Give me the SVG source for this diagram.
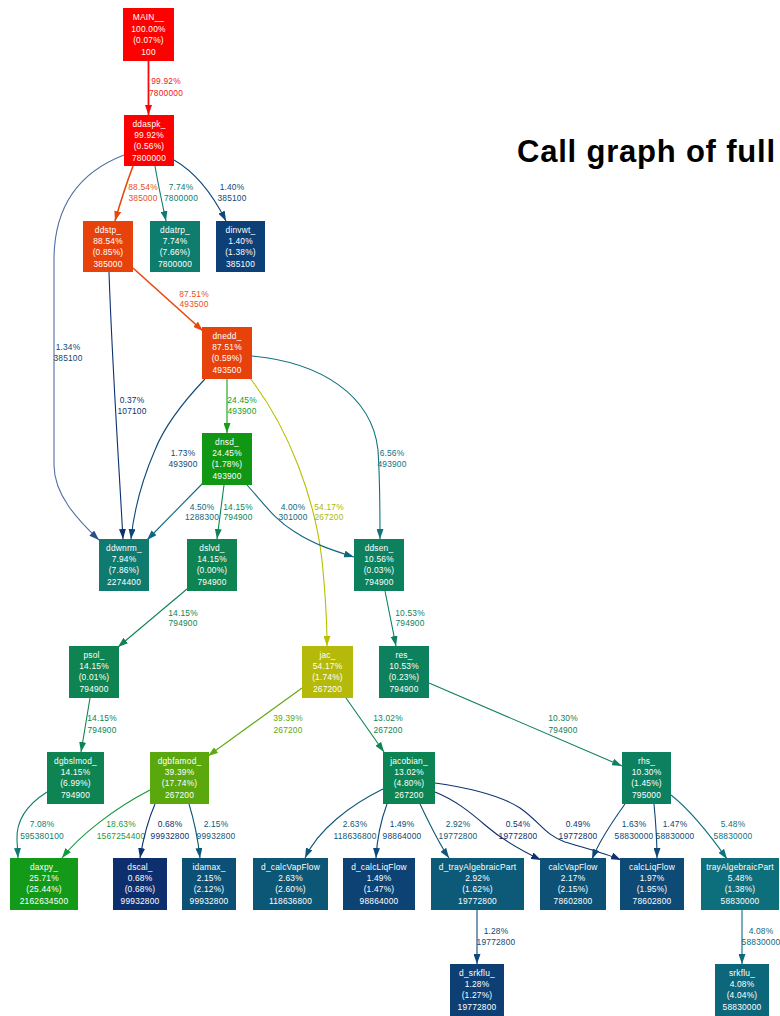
<svg xmlns="http://www.w3.org/2000/svg" width="780" height="1016" viewBox="0 0 780 1016">
<style>
  text { font-family: "Liberation Sans", Arial, Helvetica, sans-serif; }
  .node text { fill: #ffffff; font-size: 8.4px; text-anchor: middle; letter-spacing: 0.2px; }
  .lbl { font-size: 8.4px; text-anchor: middle; letter-spacing: 0.2px; }
  .e { fill: none; stroke-width: 1.1; }
  .title { font-size: 31px; font-weight: bold; fill: #000000; }
  .cR { stroke: #f80808; } .tR { fill: #f01818; }
  .cO { stroke: #e8480f; } .tO { fill: #e8501a; }
  .cY { stroke: #b8bf00; } .tY { fill: #b0b800; }
  .cYG { stroke: #5eaa10; } .tYG { fill: #5aa810; }
  .cG { stroke: #14a014; } .tG { fill: #14a014; }
  .cG2 { stroke: #129a3a; } .tG2 { fill: #179a40; }
  .cGT { stroke: #0d8452; } .tGT { fill: #0d8452; }
  .cT1 { stroke: #0d7f62; } .tT1 { fill: #0d7f62; }
  .cT2 { stroke: #0d7b70; } .tT2 { fill: #0d7b70; }
  .cT3 { stroke: #0d737f; } .tT3 { fill: #0d737f; }
  .cT4 { stroke: #0d6880; } .tT4 { fill: #0d6880; }
  .cB1 { stroke: #0d5878; } .tB1 { fill: #0d5878; }
  .cB2 { stroke: #0d4878; } .tB2 { fill: #0d4878; }
  .cB3 { stroke: #0d3070; } .tB3 { fill: #0d3070; }
  .cB4 { stroke: #5070a2; }
</style>
<defs>
  <marker id="aR" viewBox="0 0 10 7" refX="10" refY="3.5" markerWidth="10" markerHeight="7" markerUnits="userSpaceOnUse" orient="auto"><path d="M0,0 L10,3.5 L0,7 z" fill="#f80808"/></marker>
  <marker id="aO" viewBox="0 0 10 7" refX="10" refY="3.5" markerWidth="10" markerHeight="7" markerUnits="userSpaceOnUse" orient="auto"><path d="M0,0 L10,3.5 L0,7 z" fill="#e8480f"/></marker>
  <marker id="aY" viewBox="0 0 10 7" refX="10" refY="3.5" markerWidth="10" markerHeight="7" markerUnits="userSpaceOnUse" orient="auto"><path d="M0,0 L10,3.5 L0,7 z" fill="#b8bf00"/></marker>
  <marker id="aYG" viewBox="0 0 10 7" refX="10" refY="3.5" markerWidth="10" markerHeight="7" markerUnits="userSpaceOnUse" orient="auto"><path d="M0,0 L10,3.5 L0,7 z" fill="#5eaa10"/></marker>
  <marker id="aG" viewBox="0 0 10 7" refX="10" refY="3.5" markerWidth="10" markerHeight="7" markerUnits="userSpaceOnUse" orient="auto"><path d="M0,0 L10,3.5 L0,7 z" fill="#14a014"/></marker>
  <marker id="aG2" viewBox="0 0 10 7" refX="10" refY="3.5" markerWidth="10" markerHeight="7" markerUnits="userSpaceOnUse" orient="auto"><path d="M0,0 L10,3.5 L0,7 z" fill="#129a3a"/></marker>
  <marker id="aGT" viewBox="0 0 10 7" refX="10" refY="3.5" markerWidth="10" markerHeight="7" markerUnits="userSpaceOnUse" orient="auto"><path d="M0,0 L10,3.5 L0,7 z" fill="#0d8452"/></marker>
  <marker id="aT1" viewBox="0 0 10 7" refX="10" refY="3.5" markerWidth="10" markerHeight="7" markerUnits="userSpaceOnUse" orient="auto"><path d="M0,0 L10,3.5 L0,7 z" fill="#0d7f62"/></marker>
  <marker id="aT2" viewBox="0 0 10 7" refX="10" refY="3.5" markerWidth="10" markerHeight="7" markerUnits="userSpaceOnUse" orient="auto"><path d="M0,0 L10,3.5 L0,7 z" fill="#0d7b70"/></marker>
  <marker id="aT3" viewBox="0 0 10 7" refX="10" refY="3.5" markerWidth="10" markerHeight="7" markerUnits="userSpaceOnUse" orient="auto"><path d="M0,0 L10,3.5 L0,7 z" fill="#0d737f"/></marker>
  <marker id="aT4" viewBox="0 0 10 7" refX="10" refY="3.5" markerWidth="10" markerHeight="7" markerUnits="userSpaceOnUse" orient="auto"><path d="M0,0 L10,3.5 L0,7 z" fill="#0d6880"/></marker>
  <marker id="aB1" viewBox="0 0 10 7" refX="10" refY="3.5" markerWidth="10" markerHeight="7" markerUnits="userSpaceOnUse" orient="auto"><path d="M0,0 L10,3.5 L0,7 z" fill="#0d5878"/></marker>
  <marker id="aB2" viewBox="0 0 10 7" refX="10" refY="3.5" markerWidth="10" markerHeight="7" markerUnits="userSpaceOnUse" orient="auto"><path d="M0,0 L10,3.5 L0,7 z" fill="#0d4878"/></marker>
  <marker id="aB3" viewBox="0 0 10 7" refX="10" refY="3.5" markerWidth="10" markerHeight="7" markerUnits="userSpaceOnUse" orient="auto"><path d="M0,0 L10,3.5 L0,7 z" fill="#0d3070"/></marker>
  <marker id="aB4" viewBox="0 0 10 7" refX="10" refY="3.5" markerWidth="10" markerHeight="7" markerUnits="userSpaceOnUse" orient="auto"><path d="M0,0 L10,3.5 L0,7 z" fill="#2d4f88"/></marker>
</defs>
<rect width="780" height="1016" fill="#ffffff"/>

<text class="title" x="517" y="162" textLength="258" lengthAdjust="spacing">Call graph of full</text>

<!-- call edges -->
<g id="edges">
  <path class="e cR" style="stroke-width:1.8" marker-end="url(#aR)" d="M148.5,61 L148.5,115"/>
  <text class="lbl tR" x="166" y="84">99.92%</text><text class="lbl tR" x="166" y="96">7800000</text>

  <path class="e cO" style="stroke-width:1.6" marker-end="url(#aO)" d="M133,166 C127,182 121,200 115,221"/>
  <text class="lbl tO" x="143" y="190">88.54%</text><text class="lbl tO" x="143" y="201">385000</text>

  <path class="e cT2" marker-end="url(#aT2)" d="M155,166 C158,184 162,202 166,221"/>
  <text class="lbl tT2" x="181" y="190">7.74%</text><text class="lbl tT2" x="181" y="201">7800000</text>

  <path class="e cB2" marker-end="url(#aB2)" d="M174,160 C195,172 213,195 226,221"/>
  <text class="lbl tB2" x="232" y="190">1.40%</text><text class="lbl tB2" x="232" y="201">385100</text>

  <path class="e cB4" marker-end="url(#aB4)" d="M124,155 C80,172 54,205 54,260 L54,465 C54,495 78,520 99,540"/>
  <text class="lbl tB2" x="68" y="350">1.34%</text><text class="lbl tB2" x="68" y="361">385100</text>

  <path class="e cB3" marker-end="url(#aB3)" d="M109,272 C112,360 118,450 123,539"/>
  <text class="lbl tB3" x="132" y="403">0.37%</text><text class="lbl tB3" x="132" y="414">107100</text>

  <path class="e cO" style="stroke-width:1.6" marker-end="url(#aO)" d="M133,268 L203,331"/>
  <text class="lbl tO" x="194" y="297">87.51%</text><text class="lbl tO" x="194" y="307">493500</text>

  <path class="e cB2" marker-end="url(#aB2)" d="M205,379 C185,400 165,425 155,450 C142,480 134,510 131,539"/>
  <text class="lbl tB2" x="183" y="456">1.73%</text><text class="lbl tB2" x="183" y="467">493900</text>

  <path class="e cG" marker-end="url(#aG)" d="M227,379 L227,433"/>
  <text class="lbl tG" x="242" y="403">24.45%</text><text class="lbl tG" x="242" y="414">493900</text>

  <path class="e cY" marker-end="url(#aY)" d="M250,378 C290,430 315,500 322,560 C326,600 327,620 327,646"/>
  <text class="lbl tY" x="329" y="510">54.17%</text><text class="lbl tY" x="329" y="520">267200</text>

  <path class="e cT3" marker-end="url(#aT3)" d="M252,356 C320,362 372,395 378,450 C380,480 380,510 380,539"/>
  <text class="lbl tT3" x="392" y="456">6.56%</text><text class="lbl tT3" x="392" y="467">493900</text>

  <path class="e cT4" marker-end="url(#aT4)" d="M203,483 L147,540"/>
  <text class="lbl tT4" x="202" y="510">4.50%</text><text class="lbl tT4" x="202" y="520">1288300</text>

  <path class="e cGT" marker-end="url(#aGT)" d="M224,485 L217,539"/>
  <text class="lbl tGT" x="238" y="510">14.15%</text><text class="lbl tGT" x="238" y="520">794900</text>

  <path class="e cT4" marker-end="url(#aT4)" d="M247,485 C265,505 275,520 295,532 C315,545 335,551 354,557"/>
  <text class="lbl tT4" x="293" y="510">4.00%</text><text class="lbl tT4" x="293" y="520">301000</text>

  <path class="e cGT" marker-end="url(#aGT)" d="M187,589 L118,647"/>
  <text class="lbl tGT" x="183" y="616">14.15%</text><text class="lbl tGT" x="183" y="626">794900</text>

  <path class="e cGT" marker-end="url(#aGT)" d="M90,698 L81,752"/>
  <text class="lbl tGT" x="102" y="721">14.15%</text><text class="lbl tGT" x="102" y="733">794900</text>

  <path class="e cT1" marker-end="url(#aT1)" d="M385,591 L396,646"/>
  <text class="lbl tT1" x="410" y="616">10.53%</text><text class="lbl tT1" x="410" y="626">794900</text>

  <path class="e cYG" marker-end="url(#aYG)" d="M302,688 L208,756"/>
  <text class="lbl tYG" x="288" y="721">39.39%</text><text class="lbl tYG" x="288" y="733">267200</text>

  <path class="e cGT" marker-end="url(#aGT)" d="M346,698 L384,752"/>
  <text class="lbl tGT" x="388" y="721">13.02%</text><text class="lbl tGT" x="388" y="733">267200</text>

  <path class="e cT1" marker-end="url(#aT1)" d="M429,683 L622,766"/>
  <text class="lbl tT1" x="563" y="721">10.30%</text><text class="lbl tT1" x="563" y="733">794900</text>

  <path class="e cT2" marker-end="url(#aT2)" d="M47,792 C25,806 16,822 17,840 L18,858"/>
  <text class="lbl tT2" x="42" y="827">7.08%</text><text class="lbl tT2" x="42" y="839">595380100</text>

  <path class="e cG2" marker-end="url(#aG2)" d="M150,790 C115,808 80,835 62,858"/>
  <text class="lbl tG2" x="121" y="827">18.63%</text><text class="lbl tG2" x="121" y="839">1567254400</text>

  <path class="e cB3" marker-end="url(#aB3)" d="M155,804 C148,820 143,840 140,858"/>
  <text class="lbl tB3" x="170" y="827">0.68%</text><text class="lbl tB3" x="170" y="839">99932800</text>

  <path class="e cB1" marker-end="url(#aB1)" d="M189,804 C194,820 198,840 200,858"/>
  <text class="lbl tB1" x="216" y="827">2.15%</text><text class="lbl tB1" x="216" y="839">99932800</text>

  <path class="e cB1" marker-end="url(#aB1)" d="M383,789 C350,805 318,830 305,858"/>
  <text class="lbl tB1" x="355" y="827">2.63%</text><text class="lbl tB1" x="355" y="839">118636800</text>

  <path class="e cB2" marker-end="url(#aB2)" d="M387,804 C381,820 377,840 376,858"/>
  <text class="lbl tB2" x="402" y="827">1.49%</text><text class="lbl tB2" x="402" y="839">98864000</text>

  <path class="e cB1" marker-end="url(#aB1)" d="M420,804 C430,825 440,845 449,858"/>
  <text class="lbl tB1" x="458" y="827">2.92%</text><text class="lbl tB1" x="458" y="839">19772800</text>

  <path class="e cB3" marker-end="url(#aB3)" d="M435,792 C455,800 470,812 485,825 C500,838 520,850 541,860"/>
  <text class="lbl tB3" x="518" y="827">0.54%</text><text class="lbl tB3" x="518" y="839">19772800</text>

  <path class="e cB3" marker-end="url(#aB3)" d="M435,783 C470,788 500,795 520,808 C540,822 545,835 565,842 C585,848 605,853 621,860"/>
  <text class="lbl tB3" x="578" y="827">0.49%</text><text class="lbl tB3" x="578" y="839">19772800</text>

  <path class="e cB2" marker-end="url(#aB2)" d="M625,804 C612,822 600,840 592,859"/>
  <text class="lbl tB2" x="634" y="827">1.63%</text><text class="lbl tB2" x="634" y="839">58830000</text>

  <path class="e cB2" marker-end="url(#aB2)" d="M654,804 C656,825 657,840 657,858"/>
  <text class="lbl tB2" x="675" y="827">1.47%</text><text class="lbl tB2" x="675" y="839">58830000</text>

  <path class="e cT3" marker-end="url(#aT3)" d="M671,795 C690,810 708,832 727,859"/>
  <text class="lbl tT3" x="733" y="827">5.48%</text><text class="lbl tT3" x="733" y="839">58830000</text>

  <path class="e cB2" marker-end="url(#aB2)" d="M477,910 L477,964"/>
  <text class="lbl tB2" x="496" y="934">1.28%</text><text class="lbl tB2" x="496" y="945">19772800</text>

  <path class="e cT4" marker-end="url(#aT4)" d="M742,910 L742,964"/>
  <text class="lbl tT4" x="761" y="934">4.08%</text><text class="lbl tT4" x="761" y="945">58830000</text>
</g>

<!-- functions -->
<g id="MAIN__" class="node"><rect x="123" y="8" width="51" height="53" fill="#fe0000"/>
  <text x="148.5" y="20">MAIN__</text><text x="148.5" y="31.5">100.00%</text><text x="148.5" y="43">(0.07%)</text><text x="148.5" y="54.5">100</text></g>
<g id="ddaspk_" class="node"><rect x="124" y="115" width="50" height="51" fill="#fe0000"/>
  <text x="149" y="126.5">ddaspk_</text><text x="149" y="138">99.92%</text><text x="149" y="149.3">(0.56%)</text><text x="149" y="160.5">7800000</text></g>
<g id="ddstp_" class="node"><rect x="83" y="221" width="50" height="51" fill="#e8420c"/>
  <text x="108" y="232.5">ddstp_</text><text x="108" y="244">88.54%</text><text x="108" y="255.3">(0.85%)</text><text x="108" y="266.5">385000</text></g>
<g id="ddatrp_" class="node"><rect x="150" y="221" width="50" height="51" fill="#0f7d6e"/>
  <text x="175" y="232.5">ddatrp_</text><text x="175" y="244">7.74%</text><text x="175" y="255.3">(7.66%)</text><text x="175" y="266.5">7800000</text></g>
<g id="dinvwt_" class="node"><rect x="216" y="221" width="49" height="51" fill="#0d4076"/>
  <text x="240.5" y="232.5">dinvwt_</text><text x="240.5" y="244">1.40%</text><text x="240.5" y="255.3">(1.38%)</text><text x="240.5" y="266.5">385100</text></g>
<g id="dnedd_" class="node"><rect x="202" y="327" width="50" height="52" fill="#e8420c"/>
  <text x="227" y="338.7">dnedd_</text><text x="227" y="350">87.51%</text><text x="227" y="361.3">(0.59%)</text><text x="227" y="372.5">493500</text></g>
<g id="dnsd_" class="node"><rect x="202" y="433" width="50" height="52" fill="#109814"/>
  <text x="227" y="444.7">dnsd_</text><text x="227" y="456">24.45%</text><text x="227" y="467.3">(1.78%)</text><text x="227" y="478.5">493900</text></g>
<g id="ddwnrm_" class="node"><rect x="99" y="539" width="50" height="52" fill="#0f7b6f"/>
  <text x="124" y="550.7">ddwnrm_</text><text x="124" y="562">7.94%</text><text x="124" y="573.3">(7.86%)</text><text x="124" y="584.5">2274400</text></g>
<g id="dslvd_" class="node"><rect x="187" y="539" width="50" height="52" fill="#0d8452"/>
  <text x="212" y="550.7">dslvd_</text><text x="212" y="562">14.15%</text><text x="212" y="573.3">(0.00%)</text><text x="212" y="584.5">794900</text></g>
<g id="ddsen_" class="node"><rect x="354" y="539" width="50" height="52" fill="#0d805d"/>
  <text x="379" y="550.7">ddsen_</text><text x="379" y="562">10.56%</text><text x="379" y="573.3">(0.03%)</text><text x="379" y="584.5">794900</text></g>
<g id="psol_" class="node"><rect x="69" y="646" width="50" height="52" fill="#0d8452"/>
  <text x="94" y="657.7">psol_</text><text x="94" y="669">14.15%</text><text x="94" y="680.3">(0.01%)</text><text x="94" y="691.5">794900</text></g>
<g id="jac_" class="node"><rect x="302" y="646" width="51" height="52" fill="#b5b90a"/>
  <text x="327.5" y="657.7">jac_</text><text x="327.5" y="669">54.17%</text><text x="327.5" y="680.3">(1.74%)</text><text x="327.5" y="691.5">267200</text></g>
<g id="res_" class="node"><rect x="379" y="646" width="50" height="52" fill="#0d805d"/>
  <text x="404" y="657.7">res_</text><text x="404" y="669">10.53%</text><text x="404" y="680.3">(0.23%)</text><text x="404" y="691.5">794900</text></g>
<g id="dgbslmod_" class="node"><rect x="47" y="752" width="57" height="52" fill="#0d8452"/>
  <text x="75.5" y="763.7">dgbslmod_</text><text x="75.5" y="775">14.15%</text><text x="75.5" y="786.3">(6.99%)</text><text x="75.5" y="797.5">794900</text></g>
<g id="dgbfamod_" class="node"><rect x="150" y="752" width="59" height="52" fill="#5ba70e"/>
  <text x="179.5" y="763.7">dgbfamod_</text><text x="179.5" y="775">39.39%</text><text x="179.5" y="786.3">(17.74%)</text><text x="179.5" y="797.5">267200</text></g>
<g id="jacobian_" class="node"><rect x="383" y="752" width="52" height="52" fill="#0d8454"/>
  <text x="409" y="763.7">jacobian_</text><text x="409" y="775">13.02%</text><text x="409" y="786.3">(4.80%)</text><text x="409" y="797.5">267200</text></g>
<g id="rhs_" class="node"><rect x="622" y="752" width="49" height="52" fill="#0d805f"/>
  <text x="646.5" y="763.7">rhs_</text><text x="646.5" y="775">10.30%</text><text x="646.5" y="786.3">(1.45%)</text><text x="646.5" y="797.5">795000</text></g>
<g id="daxpy_" class="node"><rect x="10" y="858" width="68" height="52" fill="#129a18"/>
  <text x="44" y="869.7">daxpy_</text><text x="44" y="881">25.71%</text><text x="44" y="892.3">(25.44%)</text><text x="44" y="903.5">2162634500</text></g>
<g id="dscal_" class="node"><rect x="113" y="858" width="54" height="52" fill="#0e2f6e"/>
  <text x="140" y="869.7">dscal_</text><text x="140" y="881">0.68%</text><text x="140" y="892.3">(0.68%)</text><text x="140" y="903.5">99932800</text></g>
<g id="idamax_" class="node"><rect x="182" y="858" width="54" height="52" fill="#0d5076"/>
  <text x="209" y="869.7">idamax_</text><text x="209" y="881">2.15%</text><text x="209" y="892.3">(2.12%)</text><text x="209" y="903.5">99932800</text></g>
<g id="d_calcVapFlow" class="node"><rect x="253" y="858" width="75" height="52" fill="#0d5776"/>
  <text x="290.5" y="869.7">d_calcVapFlow</text><text x="290.5" y="881">2.63%</text><text x="290.5" y="892.3">(2.60%)</text><text x="290.5" y="903.5">118636800</text></g>
<g id="d_calcLiqFlow" class="node"><rect x="343" y="858" width="72" height="52" fill="#0d4374"/>
  <text x="379" y="869.7">d_calcLiqFlow</text><text x="379" y="881">1.49%</text><text x="379" y="892.3">(1.47%)</text><text x="379" y="903.5">98864000</text></g>
<g id="d_trayAlgebraicPart" class="node"><rect x="431" y="858" width="93" height="52" fill="#0d5a78"/>
  <text x="477.5" y="869.7">d_trayAlgebraicPart</text><text x="477.5" y="881">2.92%</text><text x="477.5" y="892.3">(1.62%)</text><text x="477.5" y="903.5">19772800</text></g>
<g id="calcVapFlow" class="node"><rect x="540" y="858" width="66" height="52" fill="#0d5276"/>
  <text x="573" y="869.7">calcVapFlow</text><text x="573" y="881">2.17%</text><text x="573" y="892.3">(2.15%)</text><text x="573" y="903.5">78602800</text></g>
<g id="calcLiqFlow" class="node"><rect x="620" y="858" width="64" height="52" fill="#0d4b76"/>
  <text x="652" y="869.7">calcLiqFlow</text><text x="652" y="881">1.97%</text><text x="652" y="892.3">(1.95%)</text><text x="652" y="903.5">78602800</text></g>
<g id="trayAlgebraicPart" class="node"><rect x="701" y="858" width="78" height="52" fill="#0d6f7c"/>
  <text x="740" y="869.7">trayAlgebraicPart</text><text x="740" y="881">5.48%</text><text x="740" y="892.3">(1.38%)</text><text x="740" y="903.5">58830000</text></g>
<g id="d_srkflu_" class="node"><rect x="450" y="964" width="54" height="52" fill="#0d3f74"/>
  <text x="477" y="975.7">d_srkflu_</text><text x="477" y="987">1.28%</text><text x="477" y="998.3">(1.27%)</text><text x="477" y="1009.5">19772800</text></g>
<g id="srkflu_" class="node"><rect x="715" y="964" width="54" height="52" fill="#0d677a"/>
  <text x="742" y="975.7">srkflu_</text><text x="742" y="987">4.08%</text><text x="742" y="998.3">(4.04%)</text><text x="742" y="1009.5">58830000</text></g>
</svg>
